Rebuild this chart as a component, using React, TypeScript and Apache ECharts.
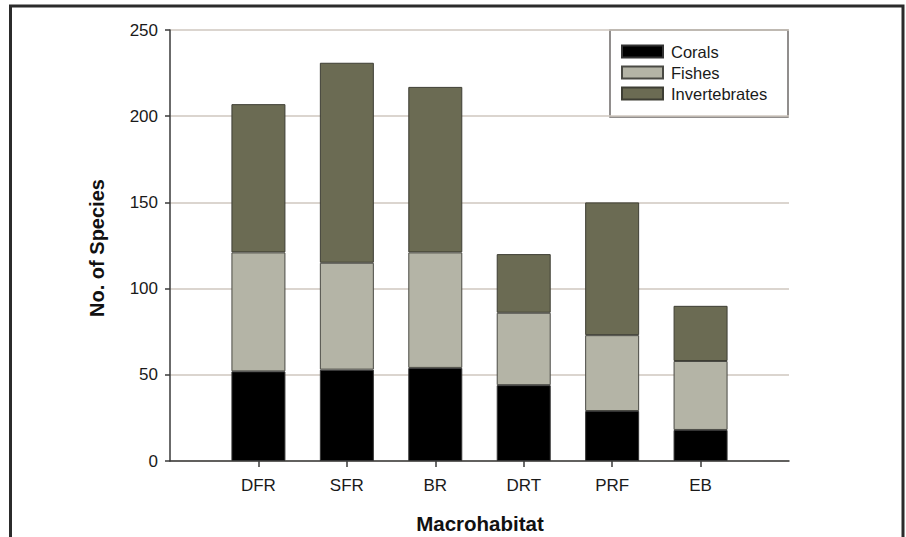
import React, { useEffect, useRef } from "react";
import * as echarts from "echarts";

const categories = ["DFR", "SFR", "BR", "DRT", "PRF", "EB"];
const corals = [52, 53, 54, 44, 29, 18];
const fishes = [69, 62, 67, 42, 44, 40];
const invertebrates = [86, 116, 96, 34, 77, 32];
const yTicks = [0, 50, 100, 150, 200, 250];

const pad = (arr: any[]) => [null, ...arr, null];

export default function App() {
  const ref = useRef<HTMLDivElement>(null);
  useEffect(() => {
    const chart = echarts.init(ref.current!, undefined, { renderer: "svg" });
    const font = "Arial, 'Liberation Sans', sans-serif";
    const barBase = { type: "bar", stack: "total", barWidth: 54 };
    chart.setOption({
      animation: false,
      backgroundColor: "#ffffff",
      grid: { left: 170, right: 117, top: 30, bottom: 76 },
      legend: {
        orient: "vertical",
        left: 621,
        top: 43,
        padding: 0,
        itemWidth: 41,
        itemHeight: 12,
        itemGap: 4,
        icon: "rect",
        data: ["Corals", "Fishes", "Invertebrates"],
        textStyle: { fontFamily: font, fontSize: 16.5, color: "#1a1a1a", padding: [0, 0, 0, 3] },
      },
      xAxis: {
        type: "category",
        boundaryGap: false,
        data: pad(categories).map((c) => (c === null ? "" : c)),
        axisLine: { lineStyle: { color: "#3a3a3a", width: 1.5 } },
        axisTick: {
          length: 6,
          interval: (_i: number, v: string) => v !== "",
          lineStyle: { color: "#3a3a3a", width: 1.5 },
        },
        axisLabel: { interval: 0, margin: 16, fontFamily: font, fontSize: 17, color: "#1a1a1a" },
        splitLine: { show: false },
      },
      yAxis: {
        type: "value",
        min: yTicks[0],
        max: yTicks[yTicks.length - 1],
        interval: 50,
        axisLine: { show: true, lineStyle: { color: "#3a3a3a", width: 1.5 } },
        axisTick: { show: true, length: 5, lineStyle: { color: "#3a3a3a", width: 1.5 } },
        axisLabel: { margin: 12, fontFamily: font, fontSize: 17, color: "#1a1a1a" },
        splitLine: { show: true, lineStyle: { color: "#cfc7bf", width: 1.5 } },
      },
      series: [
        {
          ...barBase,
          name: "Corals",
          data: pad(corals),
          itemStyle: { color: "#000000", borderColor: "#333333", borderWidth: 1 },
        },
        {
          ...barBase,
          name: "Fishes",
          data: pad(fishes),
          itemStyle: { color: "#b4b4a6", borderColor: "#4a4a44", borderWidth: 1 },
        },
        {
          ...barBase,
          name: "Invertebrates",
          data: pad(invertebrates),
          itemStyle: { color: "#6b6b53", borderColor: "#3e3e34", borderWidth: 1 },
        },
      ],
      graphic: [
        {
          type: "rect",
          shape: { x: 610, y: 30, width: 178, height: 87 },
          style: { fill: "#ffffff", stroke: "#6e6a68", lineWidth: 1.5 },
          z: -1,
          zlevel: 0,
        },
        {
          type: "text",
          x: 97,
          y: 248,
          rotation: Math.PI / 2,
          style: {
            text: "No. of Species",
            fontFamily: font,
            fontSize: 20,
            fontWeight: "bold",
            fill: "#111111",
            textAlign: "center",
            textVerticalAlign: "middle",
          },
        },
        {
          type: "text",
          x: 480,
          y: 523,
          style: {
            text: "Macrohabitat",
            fontFamily: font,
            fontSize: 20.5,
            fontWeight: "bold",
            fill: "#111111",
            textAlign: "center",
            textVerticalAlign: "middle",
          },
        },
        {
          type: "rect",
          shape: { x: 10.5, y: 6, width: 892.5, height: 600 },
          style: { fill: "none", stroke: "#2b2b2b", lineWidth: 3 },
        },
      ],
    });
    return () => chart.dispose();
  }, []);
  return (
    <div
      ref={ref}
      style={{ position: "absolute", left: 0, top: 0, width: 906, height: 537 }}
    />
  );
}
